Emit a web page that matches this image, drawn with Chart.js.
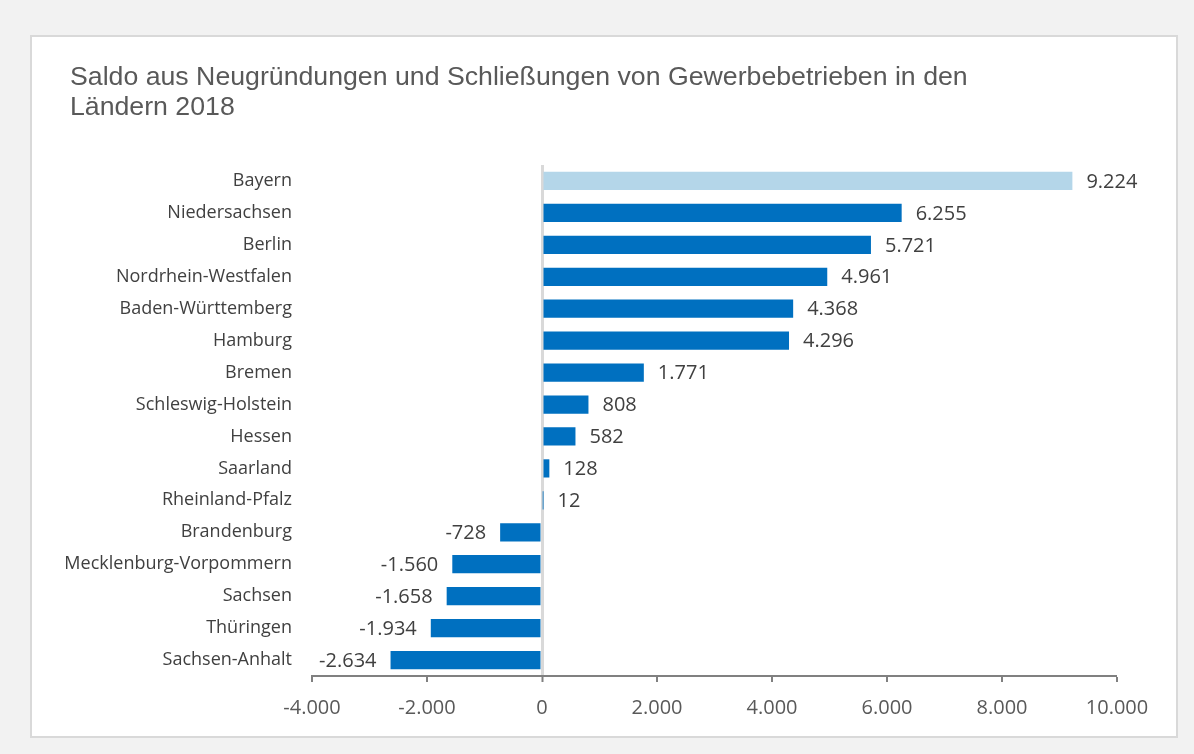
<!DOCTYPE html>
<html lang="de">
<head>
  <meta charset="UTF-8">
  <title>Saldo Gewerbebetriebe 2018</title>
  <script src="https://cdn.jsdelivr.net/npm/chart.js"></script>
  <style>
    body { margin: 0; background: #f2f2f2; }
    #wrap { position: relative; width: 1194px; height: 754px; }
  </style>
</head>
<body>

<div id="wrap"><canvas id="barChart"></canvas></div>

<script>
  const titleLines = ['Saldo aus Neugründungen und Schließungen von Gewerbebetrieben in den', 'Ländern 2018'];
  const laender = [
    'Bayern', 'Niedersachsen', 'Berlin', 'Nordrhein-Westfalen', 'Baden-Württemberg',
    'Hamburg', 'Bremen', 'Schleswig-Holstein', 'Hessen', 'Saarland',
    'Rheinland-Pfalz', 'Brandenburg', 'Mecklenburg-Vorpommern', 'Sachsen',
    'Thüringen', 'Sachsen-Anhalt'
  ];
  const saldo = [9224, 6255, 5721, 4961, 4368, 4296, 1771, 808, 582, 128, 12,
    -728, -1560, -1658, -1934, -2634];
  const highlight = 'Bayern';

  // 1234 -> "1.234"
  function fmt(v) {
    const s = Math.abs(v).toString().replace(/\B(?=(\d{3})+(?!\d))/g, '.');
    return (v < 0 ? '-' : '') + s;
  }

  // grey page + white panel + title
  const panel = {
    id: 'panel',
    beforeDraw(chart) {
      const c = chart.ctx;
      c.save();
      c.fillStyle = '#f2f2f2';
      c.fillRect(0, 0, chart.width, chart.height);
      c.fillStyle = '#ffffff';
      c.fillRect(30, 35, 1148, 703);
      c.strokeStyle = '#d9d9d9';
      c.lineWidth = 2;
      c.strokeRect(31, 36, 1146, 701);
      c.fillStyle = '#595959';
      c.font = '26.7px "Liberation Sans", Arial, sans-serif';
      c.textAlign = 'left';
      c.textBaseline = 'middle';
      titleLines.forEach((t, i) => c.fillText(t, 70, 78 + i * 30));
      c.restore();
    }
  };

  // value labels next to the bar ends
  const valueLabels = {
    id: 'valueLabels',
    afterDatasetsDraw(chart) {
      const c = chart.ctx;
      const meta = chart.getDatasetMeta(0);
      c.save();
      c.font = '20px "Open Sans", sans-serif';
      c.fillStyle = '#404040';
      c.textBaseline = 'middle';
      meta.data.forEach((bar, i) => {
        const v = saldo[i];
        if (v >= 0) {
          c.textAlign = 'left';
          c.fillText(fmt(v), Math.max(bar.x, bar.base) + 14, bar.y + 1);
        } else {
          c.textAlign = 'right';
          c.fillText(fmt(v), bar.x - 14, bar.y + 1);
        }
      });
      c.restore();
    }
  };

  new Chart(document.getElementById('barChart'), {
    type: 'bar',
    data: {
      labels: laender,
      datasets: [{
        data: saldo,
        backgroundColor: laender.map(l => l === highlight ? '#b4d6e9' : '#0070c0'),
        barPercentage: 0.57,
        categoryPercentage: 1
      }]
    },
    options: {
      indexAxis: 'y',
      responsive: true,
      maintainAspectRatio: false,
      animation: false,
      layout: { padding: { left: 30, right: 77, top: 165, bottom: 20 } },
      plugins: {
        legend: { display: false },
        tooltip: { enabled: false },
        title: { display: false }
      },
      scales: {
        x: {
          z: 1,
          min: -4000,
          max: 10000,
          ticks: {
            stepSize: 2000,
            color: '#595959',
            font: { family: '"Open Sans", sans-serif', size: 20 },
            padding: 14,
            callback: v => fmt(v)
          },
          grid: {
            color: ctx => ctx.tick && ctx.tick.value === 0 ? '#d9d9d9' : 'rgba(0,0,0,0)',
            lineWidth: ctx => ctx.tick && ctx.tick.value === 0 ? 3 : 0,
            drawTicks: true,
            tickLength: 6,
            tickColor: '#808080',
            tickWidth: 2
          },
          border: { display: true, color: '#808080', width: 2 }
        },
        y: {
          afterFit(scale) { scale.width = 282; },
          ticks: {
            color: '#404040',
            font: { family: '"Open Sans", sans-serif', size: 18 },
            padding: 20
          },
          grid: { display: false, drawTicks: false },
          border: { display: false }
        }
      }
    },
    plugins: [panel, valueLabels]
  });
</script>

</body>
</html>
